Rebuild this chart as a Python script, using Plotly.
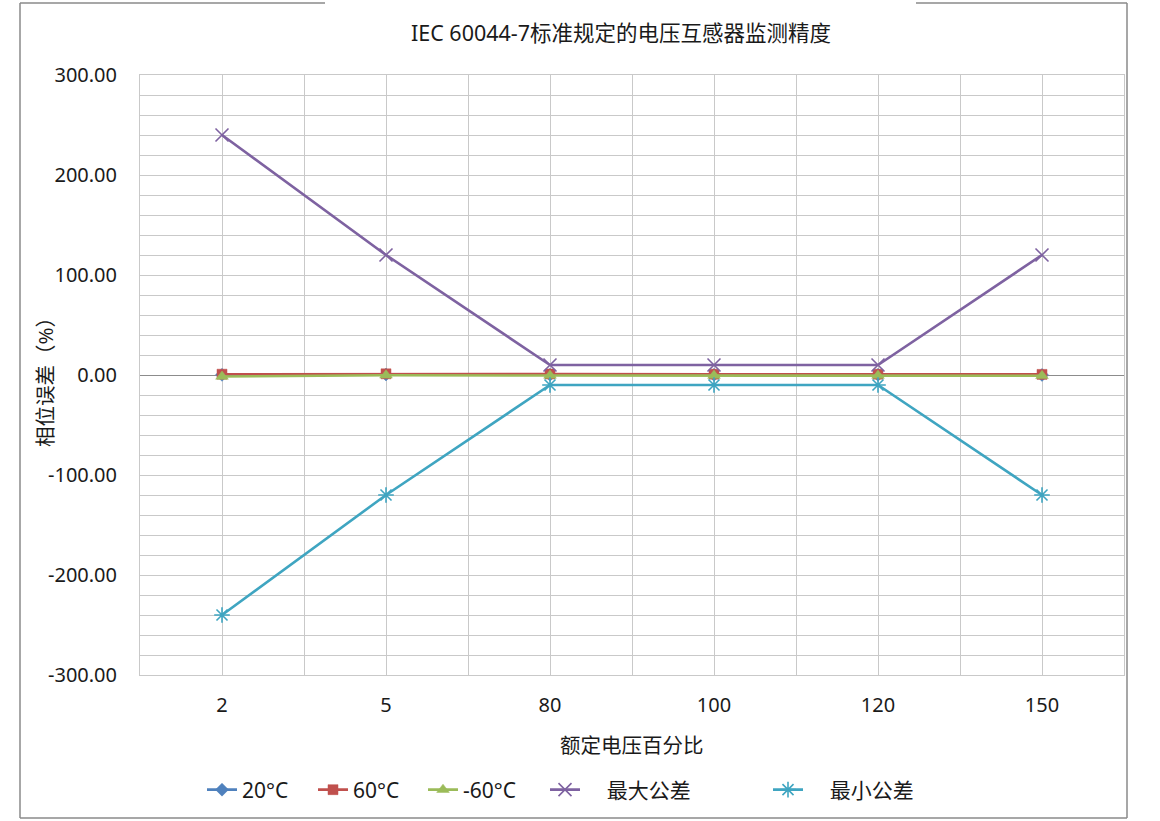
import plotly.graph_objects as go

# Rated voltage percentages (category labels on the x axis)
categories = ["2", "5", "80", "100", "120", "150"]

# Phase error (%) per temperature and the IEC tolerance band
err_20c = [0.2, 0.5, 0.3, 0.2, 0.2, 0.1]
err_60c = [0.8, 1.2, 1.0, 0.8, 0.8, 0.6]
err_m60c = [-1.5, -0.3, -0.5, -0.6, -0.6, -0.8]
tol_max = [240, 120, 10, 10, 10, 120]
tol_min = [-240, -120, -10, -10, -10, -120]

y_ticks = [-300, -200, -100, 0, 100, 200, 300]

FONT = "Noto Sans, Noto Sans CJK SC, sans-serif"
GRID = "#c9c9c9"
INK = "#1a1a1a"

# plot area in pixels
W, H = 1160, 821
L, R, T, B = 140, 1124, 75, 675


def px_x(p):
    return (p - L) / (R - L)


def px_y(p):
    return (B - p) / (B - T)


xpos = list(range(len(categories)))

series = [
    dict(name="20°C", y=err_20c, color="#4f81bd", symbol="diamond", size=10, legend="legend"),
    dict(name="60°C", y=err_60c, color="#c0504d", symbol="square", size=10, legend="legend2"),
    dict(name="-60°C", y=err_m60c, color="#9bbb59", symbol="triangle-up", size=11, legend="legend3"),
    dict(name="\u00a0\u00a0\u00a0\u00a0最大公差", y=tol_max, color="#7e62a1", symbol="x-thin", size=13, legend="legend4"),
    dict(name="\u00a0\u00a0\u00a0\u00a0最小公差", y=tol_min, color="#3fa5c1", symbol="asterisk", size=13, legend="legend5"),
]

fig = go.Figure()
for s in series:
    thin = s["symbol"] in ("x-thin", "asterisk")
    fig.add_trace(go.Scatter(
        x=xpos, y=s["y"], name=s["name"], mode="lines+markers",
        line=dict(color=s["color"], width=2.6),
        marker=dict(symbol=s["symbol"], size=s["size"], color=s["color"],
                    line=dict(color=s["color"], width=1.6 if thin else 0.5)),
        legend=s["legend"],
    ))

# one legend box per entry so the entries sit where the labels are
legend_left = [202, 313, 423, 545, 768]
legend_y = px_y(790)
legend_style = dict(orientation="h", yanchor="middle", xanchor="left",
                    font=dict(family=FONT, size=21, color=INK),
                    bgcolor="rgba(0,0,0,0)", borderwidth=0, itemwidth=30)
legends = {}
for i, lx in enumerate(legend_left):
    key = "legend" if i == 0 else f"legend{i + 1}"
    legends[key] = dict(x=px_x(lx), y=legend_y, **legend_style)

fig.update_layout(
    width=W, height=H,
    template="none",
    margin=dict(l=L, r=W - R, t=T, b=H - B, autoexpand=False),
    paper_bgcolor="white", plot_bgcolor="white",
    font=dict(family=FONT, size=20, color=INK),
    title=dict(text="IEC 60044-7标准规定的电压互感器监测精度",
               x=px_x(621), xref="paper", xanchor="center",
               y=1 - 33 / H, yanchor="middle",
               font=dict(family=FONT, size=21.5, color=INK)),
    showlegend=True,
    **legends,
)

fig.update_xaxes(
    range=[-0.5, len(categories) - 0.5],
    tickmode="array", tickvals=xpos, ticktext=categories,
    showgrid=True, gridcolor=GRID, gridwidth=1,
    minor=dict(tickmode="linear", tick0=-0.5, dtick=1, showgrid=True,
               gridcolor=GRID, gridwidth=1),
    showline=True, linecolor=GRID, linewidth=1, mirror=True,
    zeroline=False, ticks="", ticklabelstandoff=12,
    tickfont=dict(family=FONT, size=20, color=INK),
    automargin=False,
)

fig.update_yaxes(
    range=[-300, 300],
    tickmode="array", tickvals=y_ticks, ticktext=[f"{v:.2f}" for v in y_ticks],
    showgrid=True, gridcolor=GRID, gridwidth=1,
    minor=dict(tickmode="linear", tick0=0, dtick=20, showgrid=True,
               gridcolor=GRID, gridwidth=1),
    showline=True, linecolor=GRID, linewidth=1, mirror=True,
    zeroline=True, zerolinecolor="#8c8c8c", zerolinewidth=1.2,
    ticks="", ticklabelstandoff=18,
    tickfont=dict(family=FONT, size=20, color=INK),
    automargin=False,
)

# axis titles
fig.add_annotation(text="额定电压百分比", xref="paper", yref="paper",
                   x=px_x(632), y=px_y(745), xanchor="center", yanchor="middle",
                   showarrow=False, font=dict(family=FONT, size=20.5, color=INK))
fig.add_annotation(text="相位误差（%）", xref="paper", yref="paper",
                   x=px_x(45), y=px_y(377), xanchor="center", yanchor="middle",
                   textangle=-90, showarrow=False,
                   font=dict(family=FONT, size=20.5, color=INK))

# chart frame, open at the top behind the title
frame = dict(color="#8a8a8a", width=1.5)
for x0, y0, x1, y1 in [(20, 3, 20, 818), (20, 818, 1127, 818), (1127, 3, 1127, 818),
                       (20, 3, 325, 3), (916, 3, 1127, 3)]:
    fig.add_shape(type="line", xref="paper", yref="paper",
                  x0=px_x(x0), y0=px_y(y0), x1=px_x(x1), y1=px_y(y1), line=frame)

fig.write_html("out.html")
